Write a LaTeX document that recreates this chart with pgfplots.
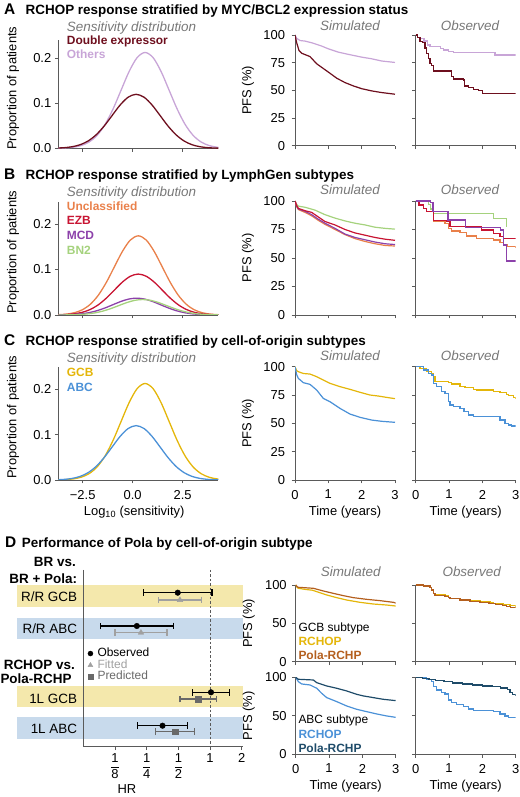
\documentclass[border=0pt]{standalone}
\usepackage{fontspec}
\setmainfont{Liberation Sans}
\usepackage{pgfplots}
\pgfplotsset{compat=1.18}

\definecolor{axgray}{RGB}{90,90,90}
\definecolor{txtgray}{RGB}{120,120,120}
\definecolor{others}{RGB}{200,165,215}
\definecolor{dexp}{RGB}{110,15,30}
\definecolor{uncl}{RGB}{233,128,74}
\definecolor{ezb}{RGB}{200,20,50}
\definecolor{mcd}{RGB}{140,65,170}
\definecolor{bn2}{RGB}{165,210,125}
\definecolor{gcb}{RGB}{228,182,10}
\definecolor{abc}{RGB}{75,145,215}
\definecolor{polagcb}{RGB}{180,95,30}
\definecolor{polaabc}{RGB}{30,75,105}
\definecolor{bandY}{RGB}{244,232,172}
\definecolor{bandB}{RGB}{200,218,236}
\definecolor{fitgray}{RGB}{160,160,160}
\definecolor{predgray}{RGB}{105,105,105}

\newcommand{\fbig}{\fontsize{13.5}{15}\selectfont}
\newcommand{\fmid}{\fontsize{13}{14}\selectfont}
\newcommand{\fleg}{\fontsize{12}{13}\selectfont}
\newcommand{\fr}[1]{$\displaystyle\frac{\mbox{1}}{\mbox{#1}}$}

\pgfplotsset{
  base/.style={scale only axis, axis x line*=bottom, axis y line*=left,
    axis line style={draw=axgray, line width=0.9bp, -},
    every tick/.style={draw=axgray, line width=0.9bp},
    tick align=outside, major tick length=3.5bp,
    tick label style={font=\fmid, text=black},
    label style={font=\fmid}},
  dist/.style={base, width=160bp, xmin=-3.72, xmax=4.28, ymin=0,
    xtick={-2.5,0,2.5}, xticklabels={}, ytick={0,0.1,0.2}, yticklabels={0.0,0.1,0.2},
    ylabel={Proportion of patients},
    y label style={at={(axis description cs:-0.283,0.555)}, anchor=center},
    xticklabel style={yshift=-3bp}},
  km/.style={base, width=100bp, xmin=0, xmax=3, ymin=0, ymax=100,
    xtick={0,1,2,3}, xticklabels={}, ytick={0,25,50,75,100},
    yticklabels={0,25,50,75,100}, ylabel={PFS (\%)},
    y label style={at={(axis description cs:-0.47,0.5)}, anchor=center},
    yticklabel style={xshift=-3bp}, xticklabel style={yshift=-3bp}},
  nolab/.style={yticklabels={}, ylabel={}},
  cv/.style={line width=1.3bp, smooth},
  kv/.style={line width=1.2bp},
  ko/.style={line width=1.2bp, const plot},
}
\tikzset{lbl/.style={inner sep=0pt, anchor=base west}}

\begin{document}
\begin{tikzpicture}[font=\fmid]
\path[use as bounding box] (0bp,0bp) rectangle (520bp,797bp);

% ---------------- A ----------------
\begin{axis}[dist, at={(58.3bp,648.7bp)}, anchor=south west, height=108.3bp, ymax=0.2407]
\addplot[others, cv] coordinates {(-3.78,0.00026) (-3.38,0.00082) (-2.98,0.00237) (-2.58,0.00609) (-2.18,0.0140) (-1.78,0.0288) (-1.38,0.0531) (-0.98,0.0876) (-0.58,0.1292) (-0.18,0.1706) (0.22,0.2015) (0.62,0.213) (1.02,0.2015) (1.42,0.1706) (1.82,0.1292) (2.22,0.0876) (2.62,0.0531) (3.02,0.0288) (3.42,0.0140) (3.82,0.00609) (4.22,0.00237) (4.62,0.00082)};
\addplot[dexp, cv] coordinates {(-3.83,0.00046) (-3.43,0.00133) (-3.03,0.00343) (-2.63,0.00789) (-2.23,0.0162) (-1.83,0.0299) (-1.43,0.0493) (-1.03,0.0728) (-0.63,0.0961) (-0.23,0.1135) (0.17,0.12) (0.57,0.1135) (0.97,0.0961) (1.37,0.0728) (1.77,0.0493) (2.17,0.0299) (2.57,0.0162) (2.97,0.00789) (3.37,0.00343) (3.77,0.00133) (4.17,0.00046) (4.57,0.00014)};
\end{axis}

\begin{axis}[km, at={(295bp,651.3bp)}, anchor=south west, height=110.7bp]
\addplot[others, kv] coordinates {(0,100) (0.05,97) (0.15,95) (0.3,94.5) (0.5,93) (0.8,90) (1.0,87.5) (1.3,84.5) (1.6,82.5) (2.0,80) (2.3,78.5) (2.6,76.5) (3,75.2)};
\addplot[dexp, kv] coordinates {(0,100) (0.05,93) (0.12,86) (0.2,83.5) (0.45,80.5) (0.65,74) (1.0,66.5) (1.25,61) (1.5,57) (1.75,54) (2.0,51.5) (2.3,49.5) (2.6,48) (3,46.5)};
\end{axis}

\begin{axis}[km, nolab, at={(415.7bp,651.3bp)}, anchor=south west, height=110.7bp]
\addplot[others, ko] coordinates {(0,100) (0.05,98) (0.15,96.5) (0.25,94.5) (0.35,91) (0.43,89.5) (0.75,88) (0.83,86.5) (0.98,85) (1.13,84) (2.38,82) (3,82)};
\addplot[dexp, ko] coordinates {(0,100) (0.05,98) (0.13,94) (0.2,93) (0.28,88.3) (0.33,83) (0.38,78.6) (0.43,74.1) (0.48,72.6) (0.53,67.5) (1.08,62.3) (1.13,60.2) (1.43,59.3) (1.47,54) (1.58,52.7) (1.73,51) (1.88,49.7) (2.0,47.5) (3,47.5)};
\end{axis}

\node[lbl, font=\fontsize{15.5}{16}\selectfont\bfseries] at (4bp,782bp) {A};
\node[lbl, font=\fbig\bfseries] at (25.5bp,782bp) {RCHOP response stratified by MYC/BCL2 expression status};
\node[lbl, font=\fbig\itshape, text=txtgray] at (66.7bp,765.3bp) {Sensitivity distribution};
\node[lbl, font=\fleg\bfseries, text=dexp] at (66.7bp,752.7bp) {Double expressor};
\node[lbl, font=\fleg\bfseries, text=others] at (66.7bp,738.7bp) {Others};
\node[inner sep=0pt, anchor=base, font=\fbig\itshape, text=txtgray] at (350bp,766.3bp) {Simulated};
\node[inner sep=0pt, anchor=base, font=\fbig\itshape, text=txtgray] at (470bp,766.3bp) {Observed};

% ---------------- B ----------------
\begin{axis}[dist, at={(58.3bp,482bp)}, anchor=south west, height=113.3bp, ymax=0.249]
\addplot[uncl, cv] coordinates {(-4.12,0.0002) (-3.72,0.00067) (-3.32,0.00193) (-2.92,0.00497) (-2.52,0.01143) (-2.12,0.02354) (-1.72,0.0434) (-1.32,0.0715) (-0.92,0.1055) (-0.52,0.1393) (-0.12,0.1646) (0.28,0.174) (0.68,0.1646) (1.08,0.1393) (1.48,0.1055) (1.88,0.0715) (2.28,0.0434) (2.68,0.02354) (3.08,0.01143) (3.48,0.00497) (3.88,0.00193) (4.28,0.00067) (4.68,0.0002)};
\addplot[ezb, cv] coordinates {(-4.12,0.0001) (-3.72,0.00035) (-3.32,0.00100) (-2.92,0.00257) (-2.52,0.00591) (-2.12,0.01218) (-1.72,0.02245) (-1.32,0.0370) (-0.92,0.0546) (-0.52,0.0721) (-0.12,0.0851) (0.28,0.09) (0.68,0.0851) (1.08,0.0721) (1.48,0.0546) (1.88,0.0370) (2.28,0.02245) (2.68,0.01218) (3.08,0.00591) (3.48,0.00257) (3.88,0.00100) (4.28,0.00035) (4.68,0.0001)};
\addplot[mcd, cv] coordinates {(-3.8,0.00014) (-3.4,0.00041) (-3.0,0.00106) (-2.6,0.00243) (-2.2,0.00501) (-1.8,0.00923) (-1.4,0.0152) (-1.0,0.0224) (-0.6,0.0296) (-0.2,0.0350) (0.2,0.037) (0.6,0.0350) (1.0,0.0296) (1.4,0.0224) (1.8,0.0152) (2.2,0.00923) (2.6,0.00501) (3.0,0.00243) (3.4,0.00106) (3.8,0.00041) (4.2,0.00014) (4.6,0.00004)};
\addplot[bn2, cv] coordinates {(-3.9,0.00004) (-3.5,0.00013) (-3.1,0.00038) (-2.7,0.00097) (-2.3,0.00223) (-1.9,0.0046) (-1.5,0.00848) (-1.1,0.01398) (-0.7,0.0206) (-0.3,0.0272) (0.1,0.0322) (0.5,0.034) (0.9,0.0322) (1.3,0.0272) (1.7,0.0206) (2.1,0.01398) (2.5,0.00848) (2.9,0.0046) (3.3,0.00223) (3.7,0.00097) (4.1,0.00038) (4.5,0.00013)};
\end{axis}

\begin{axis}[km, at={(295bp,482bp)}, anchor=south west, height=114bp]
\addplot[bn2, kv] coordinates {(0,100) (0.05,97) (0.1,95.5) (0.3,94.5) (0.6,92) (0.9,88) (1.2,85) (1.5,82.5) (1.8,80.5) (2.1,79) (2.4,77) (2.7,76) (3,75.3)};
\addplot[uncl, kv] coordinates {(0,100) (0.05,95) (0.1,92.5) (0.3,90) (0.5,87) (0.7,83) (0.9,79.5) (1.2,75) (1.5,70.5) (1.8,67) (2.1,64.5) (2.4,62.5) (2.7,61) (3,60.5)};
\addplot[mcd, kv] coordinates {(0,100) (0.05,95.5) (0.1,93) (0.3,91) (0.5,88) (0.7,84) (0.9,80.5) (1.2,76) (1.5,71) (1.8,68) (2.1,66) (2.4,64) (2.7,62.5) (3,61.8)};
\addplot[ezb, kv] coordinates {(0,100) (0.05,96) (0.1,93.5) (0.3,91.5) (0.5,90) (0.7,86) (0.9,82) (1.2,79) (1.5,75) (1.8,72) (2.1,70) (2.4,68) (2.7,66.5) (3,65.5)};
\end{axis}

\begin{axis}[km, nolab, at={(415.7bp,482bp)}, anchor=south west, height=114bp]
\addplot[bn2, ko] coordinates {(0,100) (0.38,97) (0.45,93) (0.53,89.2) (2.33,84.8) (2.73,77.5)};
\addplot[uncl, ko] coordinates {(0,100) (0.12,96.5) (0.23,93.6) (0.33,90.6) (0.53,81.9) (0.88,80.4) (0.98,76) (1.08,73.7) (1.33,72.2) (1.53,69.3) (1.83,67.3) (2.33,65.8) (2.53,63.5) (2.63,61.4) (2.75,60) (3,59.6)};
\addplot[ezb, ko] coordinates {(0,100) (0.1,96.5) (0.23,93.6) (0.33,90.6) (0.53,82.7) (0.93,81.9) (1.03,77.5) (1.98,74.6) (2.33,71.6) (2.53,68.7) (2.63,67.3) (3,67.3)};
\addplot[mcd, ko] coordinates {(0,100) (0.45,98.5) (0.52,90.6) (0.97,83.3) (1.5,76.9) (2.55,74.6) (2.63,61.4) (2.73,47.4) (3,47.4)};
\end{axis}

\node[lbl, font=\fontsize{15.5}{16}\selectfont\bfseries] at (4bp,617bp) {B};
\node[lbl, font=\fbig\bfseries] at (25.5bp,617bp) {RCHOP response stratified by LymphGen subtypes};
\node[lbl, font=\fbig\itshape, text=txtgray] at (66.7bp,600.3bp) {Sensitivity distribution};
\node[lbl, font=\fleg\bfseries, text=uncl] at (66.7bp,586.7bp) {Unclassified};
\node[lbl, font=\fleg\bfseries, text=ezb] at (66.7bp,572bp) {EZB};
\node[lbl, font=\fleg\bfseries, text=mcd] at (66.7bp,557bp) {MCD};
\node[lbl, font=\fleg\bfseries, text=bn2] at (66.7bp,542bp) {BN2};
\node[inner sep=0pt, anchor=base, font=\fbig\itshape, text=txtgray] at (350bp,602bp) {Simulated};
\node[inner sep=0pt, anchor=base, font=\fbig\itshape, text=txtgray] at (470bp,602bp) {Observed};

% ---------------- C ----------------
\begin{axis}[dist, at={(58.3bp,317bp)}, anchor=south west, height=113.3bp, ymax=0.25,
  xticklabels={−2.5,0.0,2.5}, xlabel={Log\textsubscript{10} (sensitivity)},
  x label style={at={(axis description cs:0.474,-0.315)}, anchor=base}]
\addplot[gcb, cv] coordinates {(-3.78,0.00026) (-3.38,0.00082) (-2.98,0.00237) (-2.58,0.00609) (-2.18,0.0140) (-1.78,0.0288) (-1.38,0.0531) (-0.98,0.0876) (-0.58,0.1292) (-0.18,0.1706) (0.22,0.2015) (0.62,0.213) (1.02,0.2015) (1.42,0.1706) (1.82,0.1292) (2.22,0.0876) (2.62,0.0531) (3.02,0.0288) (3.42,0.0140) (3.82,0.00609) (4.22,0.00237) (4.62,0.00082)};
\addplot[abc, cv] coordinates {(-3.83,0.00046) (-3.43,0.00133) (-3.03,0.00343) (-2.63,0.00789) (-2.23,0.0162) (-1.83,0.0299) (-1.43,0.0493) (-1.03,0.0728) (-0.63,0.0961) (-0.23,0.1135) (0.17,0.12) (0.57,0.1135) (0.97,0.0961) (1.37,0.0728) (1.77,0.0493) (2.17,0.0299) (2.57,0.0162) (2.97,0.00789) (3.37,0.00343) (3.77,0.00133) (4.17,0.00046) (4.57,0.00014)};
\end{axis}

\begin{axis}[km, at={(295bp,317bp)}, anchor=south west, height=113.3bp,
  xticklabels={0,1,2,3}, xlabel={Time (years)},
  x label style={at={(axis description cs:0.5,-0.315)}, anchor=base}]
\addplot[gcb, kv] coordinates {(0,100) (0.05,96.5) (0.1,95.6) (0.25,94) (0.45,93.5) (0.65,91.2) (0.85,88.2) (1.05,85.3) (1.35,82.4) (1.65,80) (1.95,77.4) (2.25,75) (2.5,74.1) (2.75,72.9) (3,71.8)};
\addplot[abc, kv] coordinates {(0,100) (0.05,93) (0.1,89.7) (0.25,85.9) (0.45,84.4) (0.65,79.4) (0.85,72) (1.05,69.1) (1.35,63.2) (1.65,58.2) (1.95,55.3) (2.3,52.9) (2.6,51.8) (3,50.9)};
\end{axis}

\begin{axis}[km, nolab, at={(415.7bp,317bp)}, anchor=south west, height=113.3bp,
  xticklabels={0,1,2,3}, xlabel={Time (years)},
  x label style={at={(axis description cs:0.5,-0.315)}, anchor=base}]
\addplot[gcb, ko] coordinates {(0,100) (0.13,98.5) (0.33,95.6) (0.48,94.1) (0.53,91.2) (0.58,86.8) (0.98,85.9) (1.08,84.7) (1.33,82.4) (1.48,81.5) (1.73,80) (1.83,79.4) (2.33,77.9) (2.53,77.1) (2.73,75.6) (2.78,74.4) (2.93,72.9) (3,71.8)};
\addplot[abc, ko] coordinates {(0,100) (0.23,97.1) (0.38,94.1) (0.48,92.6) (0.53,85.3) (0.63,82.4) (0.78,77.9) (0.88,76.5) (0.98,69.1) (1.03,66.2) (1.13,64.7) (1.33,63.2) (1.45,60.3) (1.58,57.4) (1.73,55.9) (2.53,52.9) (2.68,50) (2.78,48.5) (2.88,47.6) (3,47.6)};
\end{axis}

\node[lbl, font=\fontsize{15.5}{16}\selectfont\bfseries] at (4bp,451bp) {C};
\node[lbl, font=\fbig\bfseries] at (25.5bp,451bp) {RCHOP response stratified by cell-of-origin subtypes};
\node[lbl, font=\fbig\itshape, text=txtgray] at (66.7bp,434.3bp) {Sensitivity distribution};
\node[lbl, font=\fleg\bfseries, text=gcb] at (66.7bp,420bp) {GCB};
\node[lbl, font=\fleg\bfseries, text=abc] at (66.7bp,405bp) {ABC};
\node[inner sep=0pt, anchor=base, font=\fbig\itshape, text=txtgray] at (350bp,436.3bp) {Simulated};
\node[inner sep=0pt, anchor=base, font=\fbig\itshape, text=txtgray] at (470bp,436.3bp) {Observed};

% ---------------- D forest ----------------
\begin{axis}[base, at={(83.3bp,51bp)}, anchor=south west, width=159.4bp, height=176bp,
  xmin=-4, xmax=1.03, ymin=570, ymax=746, y dir=reverse, clip=false, axis on top,
  ytick=\empty, major tick length=4bp,
  xtick={-3,-2,-1,0,1}, xticklabels={\fr{8},\fr{4},\fr{2},1,2},
  legend style={at={(axis cs:-3.86,647.5)}, anchor=north west, draw=none, fill=none,
    font=\fleg, row sep=0pt, column sep=4bp, inner sep=0pt,
    nodes={inner sep=0.6bp, text height=8bp, text depth=2.5bp}},
  legend cell align=left,
  legend image code/.code={\draw[#1] plot coordinates {(0bp,0bp)};}]
\addplot[draw=none, fill=bandY, forget plot] coordinates {(-6.08,585) (1.03,585) (1.03,606.7) (-6.08,606.7)} -- cycle;
\addplot[draw=none, fill=bandB, forget plot] coordinates {(-6.08,617.7) (1.03,617.7) (1.03,639.3) (-6.08,639.3)} -- cycle;
\addplot[draw=none, fill=bandY, forget plot] coordinates {(-6.08,685.7) (1.03,685.7) (1.03,707.3) (-6.08,707.3)} -- cycle;
\addplot[draw=none, fill=bandB, forget plot] coordinates {(-6.08,717.3) (1.03,717.3) (1.03,739) (-6.08,739)} -- cycle;
\addplot[axgray, dash pattern=on 2.5bp off 2bp, line width=0.9bp, forget plot] coordinates {(0,570) (0,746)};
\addplot[only marks, mark=*, mark size=2.8bp, black, forget plot,
  error bars/.cd, x dir=both, x explicit, error bar style={line width=1.2bp},
  error mark options={rotate=90, mark size=3.3bp, line width=1.2bp}]
  coordinates {(-1.02,592.7) +- (1.08,0) (-2.31,626) +- (1.15,0) (0.03,692.3) +- (0.58,0) (-1.5,725.7) +- (0.78,0)};
\addplot[only marks, mark=triangle*, mark size=3.2bp, fitgray, forget plot,
  error bars/.cd, x dir=both, x explicit, error bar style={line width=1.2bp},
  error mark options={rotate=90, mark size=3.3bp, line width=1.2bp}]
  coordinates {(-0.95,600) +- (0.68,0) (-2.18,632.7) +- (0.82,0)};
\addplot[only marks, mark=square*, mark size=2.8bp, predgray, forget plot,
  error bars/.cd, x dir=both, x explicit, error bar style={line width=1.2bp},
  error mark options={rotate=90, mark size=3.3bp, line width=1.2bp}]
  coordinates {(-0.37,699) +- (0.58,0) (-1.10,731.7) +- (0.61,0)};
\addlegendimage{only marks, mark=*, mark size=2.5bp, black}
\addlegendentry{Observed}
\addlegendimage{only marks, mark=triangle*, mark size=2.8bp, fitgray}
\addlegendentry{\textcolor{fitgray}{Fitted}}
\addlegendimage{only marks, mark=square*, mark size=2.5bp, predgray}
\addlegendentry{\textcolor{predgray}{Predicted}}
\end{axis}

\node[lbl, font=\fontsize{15.5}{16}\selectfont\bfseries] at (5bp,249.3bp) {D};
\node[lbl, font=\fbig\bfseries] at (21.7bp,249.3bp) {Performance of Pola by cell-of-origin subtype};
\node[inner sep=0pt, anchor=base east, font=\fbig\bfseries] at (76bp,230.3bp) {BR vs.};
\node[inner sep=0pt, anchor=base east, font=\fbig\bfseries] at (77.3bp,213.7bp) {BR + Pola:};
\node[inner sep=0pt, anchor=base east, font=\fbig\bfseries] at (75bp,127bp) {RCHOP vs.};
\node[inner sep=0pt, anchor=base east, font=\fbig\bfseries] at (71.7bp,113.7bp) {Pola-RCHP};
\node[inner sep=0pt, anchor=base east, font=\fbig] at (77.3bp,195.7bp) {R/R GCB};
\node[inner sep=0pt, anchor=base east, font=\fbig] at (77.3bp,163.7bp) {R/R ABC};
\node[inner sep=0pt, anchor=base east, font=\fbig] at (77.3bp,93.7bp) {1L GCB};
\node[inner sep=0pt, anchor=base east, font=\fbig] at (77.3bp,63.7bp) {1L ABC};
\node[inner sep=0pt, anchor=base, font=\fmid] at (127bp,4bp) {HR};

% ---------------- D survival ----------------
\begin{axis}[km, at={(295.7bp,135.3bp)}, anchor=south west, height=76.7bp,
  ytick={0,50,100}, yticklabels={0,50,100}, yticklabel style={xshift=1bp}]
\addplot[gcb, kv] coordinates {(0,100) (0.05,96.5) (0.08,95.7) (0.28,94.3) (0.5,93.2) (0.63,91.3) (0.93,87) (1.23,83.5) (1.53,80.4) (1.93,77.4) (2.33,75.2) (2.73,73.9) (3,72.6)};
\addplot[polagcb, kv] coordinates {(0,100) (0.05,97.5) (0.08,97) (0.53,95.7) (0.83,92.2) (1.13,89.1) (1.43,86.1) (1.73,83.5) (2.13,81.3) (2.53,79.6) (2.93,77.4) (3,76.5)};
\end{axis}

\begin{axis}[km, nolab, at={(415.7bp,135.3bp)}, anchor=south west, height=76.7bp, ytick={0,50,100}]
\addplot[gcb, ko] coordinates {(0,100) (0.23,98.7) (0.43,97) (0.48,93.5) (0.53,89.1) (0.58,87) (0.88,86) (0.98,84) (1.03,82.6) (1.33,81.3) (1.63,79.6) (1.93,78.3) (2.23,77.4) (2.33,76.1) (2.63,74.8) (2.83,73) (3,71.7)};
\addplot[polagcb, ko] coordinates {(0,100) (0.23,98.7) (0.43,97) (0.48,93.5) (0.53,89.1) (0.58,86.5) (0.88,85.5) (0.98,83.5) (1.03,82) (1.33,80.5) (1.63,79) (1.93,77.5) (2.2,76) (2.4,75) (2.6,73.5) (2.73,72) (2.85,71) (3,71)};
\end{axis}

\begin{axis}[km, at={(295.7bp,43bp)}, anchor=south west, height=76.7bp,
  ytick={0,50,100}, yticklabels={0,50,100}, yticklabel style={xshift=1bp},
  xticklabels={0,1,2,3}, xlabel={Time (years)},
  x label style={at={(axis description cs:0.5,-0.469)}, anchor=base}]
\addplot[abc, kv] coordinates {(0,100) (0.08,94.3) (0.18,91.3) (0.43,90) (0.63,85.7) (0.78,79.1) (0.93,73.5) (1.23,68.3) (1.53,62.6) (1.83,58.3) (2.13,55.2) (2.43,52.2) (2.73,49.6) (3,47.8)};
\addplot[polaabc, kv] coordinates {(0,100) (0.08,97.4) (0.53,96.5) (0.63,93) (0.93,88.7) (1.23,85.7) (1.53,82.2) (1.83,77.8) (2.03,75.7) (2.33,73.5) (2.63,71.3) (3,69.6)};
\end{axis}

\begin{axis}[km, nolab, at={(415.7bp,43bp)}, anchor=south west, height=76.7bp, ytick={0,50,100},
  xticklabels={0,1,2,3}, xlabel={Time (years)},
  x label style={at={(axis description cs:0.5,-0.469)}, anchor=base}]
\addplot[abc, ko] coordinates {(0,100) (0.33,97.4) (0.48,94.3) (0.53,87.8) (0.63,83.5) (0.78,80) (0.88,78.3) (0.98,70.4) (1.08,67) (1.23,64.8) (1.43,61.7) (1.58,58.7) (1.73,56.5) (2.33,55.2) (2.53,52.2) (2.68,49.6) (2.78,47.8) (3,47.8)};
\addplot[polaabc, ko] coordinates {(0,100) (0.2,98.7) (0.4,97.4) (0.6,95.7) (0.85,94.3) (1.1,92.6) (1.4,91.3) (1.7,90) (2.0,88.7) (2.3,87.5) (2.55,86) (2.75,84) (2.83,80.5) (2.9,78) (3,76)};
\end{axis}

\node[inner sep=0pt, anchor=base, font=\fbig\itshape, text=txtgray] at (350.7bp,220.3bp) {Simulated};
\node[inner sep=0pt, anchor=base, font=\fbig\itshape, text=txtgray] at (471.7bp,220.3bp) {Observed};
\node[lbl, font=\fleg] at (298.3bp,165.3bp) {GCB subtype};
\node[lbl, font=\fleg\bfseries, text=gcb] at (298.3bp,151bp) {RCHOP};
\node[lbl, font=\fleg\bfseries, text=polagcb] at (298.3bp,137bp) {Pola-RCHP};
\node[lbl, font=\fleg] at (298.3bp,73bp) {ABC subtype};
\node[lbl, font=\fleg\bfseries, text=abc] at (298.3bp,58.7bp) {RCHOP};
\node[lbl, font=\fleg\bfseries, text=polaabc] at (298.3bp,44.7bp) {Pola-RCHP};
\end{tikzpicture}
\end{document}
